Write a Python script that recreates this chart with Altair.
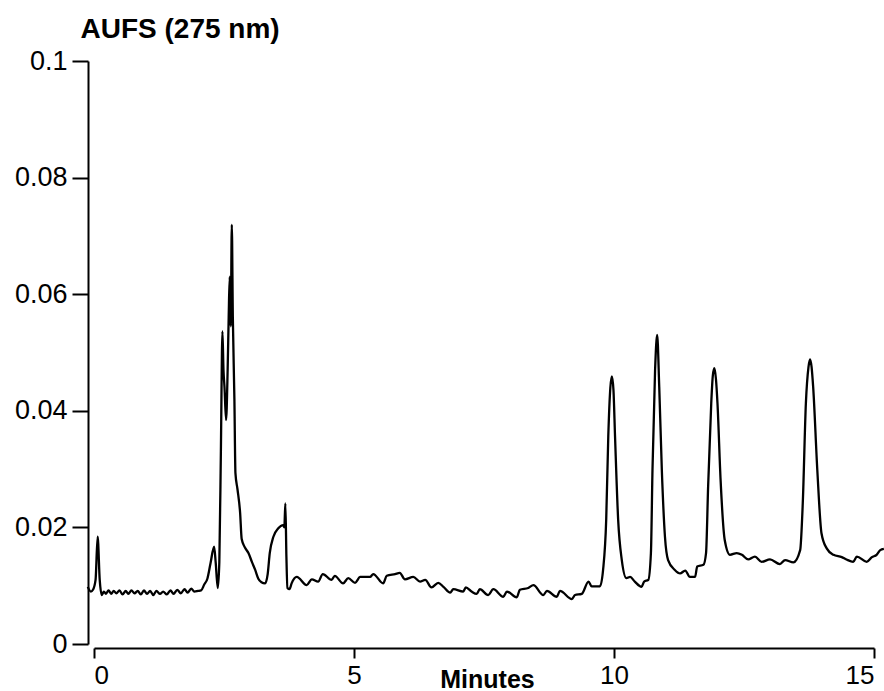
import altair as alt
import pandas as pd

# Chromatogram trace (minutes, AUFS at 275 nm)
minutes = [
    -0.12, -0.06, -0.02, 0.03, 0.07, 0.11, 0.15, 0.19, 0.23, 0.28, 0.33, 0.38,
    0.43, 0.49, 0.55, 0.61, 0.66, 0.72, 0.78, 0.84, 0.90, 0.96, 1.02, 1.08,
    1.14, 1.20, 1.27, 1.33, 1.40, 1.47, 1.53, 1.60, 1.67, 1.74, 1.80, 1.87,
    1.93, 2.00, 2.06, 2.12, 2.18, 2.24, 2.31, 2.34, 2.38, 2.41, 2.44, 2.47,
    2.49, 2.51, 2.54, 2.57, 2.59, 2.61, 2.63, 2.65, 2.67, 2.70, 2.72, 2.76,
    2.81, 2.84, 2.90, 2.97, 3.04, 3.10, 3.16, 3.22, 3.29, 3.34, 3.38, 3.45,
    3.54, 3.64, 3.66, 3.68, 3.70, 3.72, 3.76, 3.80, 3.90, 4.09, 4.19, 4.31,
    4.40, 4.57, 4.63, 4.79, 4.89, 5.02, 5.12, 5.31, 5.37, 5.56, 5.63, 5.79,
    5.88, 5.98, 6.14, 6.27, 6.37, 6.49, 6.62, 6.72, 6.85, 6.91, 7.10, 7.15,
    7.26, 7.36, 7.42, 7.58, 7.68, 7.87, 7.94, 8.13, 8.19, 8.35, 8.45, 8.64,
    8.71, 8.90, 8.96, 9.19, 9.25, 9.38, 9.51, 9.57, 9.73, 9.79, 9.85, 9.89,
    9.93, 9.96, 9.99, 10.02, 10.08, 10.15, 10.24, 10.31, 10.40, 10.53, 10.58,
    10.66, 10.71, 10.74, 10.79, 10.83, 10.87, 10.92, 10.98, 11.04, 11.17,
    11.27, 11.37, 11.46, 11.56, 11.60, 11.72, 11.77, 11.81, 11.87, 11.90,
    11.93, 11.96, 11.99, 12.05, 12.13, 12.23, 12.36, 12.46, 12.58, 12.71,
    12.84, 13.00, 13.19, 13.29, 13.45, 13.58, 13.63, 13.69, 13.74, 13.77,
    13.80, 13.83, 13.91, 13.99, 14.09, 14.22, 14.38, 14.47, 14.60, 14.67,
    14.86, 14.96, 15.05, 15.12, 15.19,
]
aufs = [
    0.0098, 0.0090, 0.0093, 0.0110, 0.0184, 0.0110, 0.0084, 0.0090, 0.0086, 0.0092, 0.0086, 0.0091,
    0.0087, 0.0092, 0.0085, 0.0091, 0.0086, 0.0092, 0.0087, 0.0091, 0.0085, 0.0092, 0.0086, 0.0091,
    0.0084, 0.0091, 0.0086, 0.0090, 0.0085, 0.0092, 0.0086, 0.0093, 0.0087, 0.0094, 0.0088, 0.0095,
    0.0090, 0.0091, 0.0092, 0.0102, 0.0112, 0.0138, 0.0167, 0.0140, 0.0096, 0.0140, 0.0330, 0.0536,
    0.0470, 0.0440, 0.0384, 0.0470, 0.0560, 0.0630, 0.0545, 0.0719, 0.0560, 0.0420, 0.0293, 0.0265,
    0.0225, 0.0180, 0.0166, 0.0156, 0.0140, 0.0127, 0.0112, 0.0106, 0.0104, 0.0120, 0.0156, 0.0184,
    0.0198, 0.0204, 0.0200, 0.0241, 0.0150, 0.0096, 0.0094, 0.0104, 0.0115, 0.0101, 0.0111, 0.0107,
    0.0120, 0.0110, 0.0117, 0.0104, 0.0113, 0.0105, 0.0115, 0.0115, 0.0120, 0.0104, 0.0117, 0.0120,
    0.0122, 0.0111, 0.0115, 0.0107, 0.0110, 0.0097, 0.0105, 0.0098, 0.0088, 0.0094, 0.0090, 0.0097,
    0.0090, 0.0086, 0.0094, 0.0084, 0.0094, 0.0081, 0.0090, 0.0080, 0.0093, 0.0096, 0.0101, 0.0084,
    0.0091, 0.0081, 0.0091, 0.0077, 0.0084, 0.0086, 0.0107, 0.0099, 0.0099, 0.0127, 0.0213, 0.0356,
    0.0440, 0.0459, 0.0435, 0.0356, 0.0213, 0.0144, 0.0113, 0.0115, 0.0107, 0.0098, 0.0107,
    0.0110, 0.0156, 0.0298, 0.0470, 0.0530, 0.0441, 0.0298, 0.0184, 0.0144, 0.0127,
    0.0121, 0.0126, 0.0115, 0.0115, 0.0133, 0.0136, 0.0156, 0.0270, 0.0413, 0.0460,
    0.0473, 0.0455, 0.0413, 0.0281, 0.0178, 0.0153, 0.0156, 0.0153, 0.0145, 0.0150,
    0.0141, 0.0145, 0.0137, 0.0144, 0.0140, 0.0161, 0.0241, 0.0413, 0.0475, 0.0488,
    0.0475, 0.0441, 0.0298, 0.0190, 0.0164, 0.0153, 0.0149, 0.0145, 0.0141, 0.0150,
    0.0141, 0.0149, 0.0153, 0.0161, 0.0163,
]

y_ticks = [0, 0.02, 0.04, 0.06, 0.08, 0.1]
x_ticks = [0, 5, 10, 15]

df = pd.DataFrame({"t": minutes, "a": aufs})

FONT = "Liberation Sans"

chart = (
    alt.Chart(df)
    .mark_line(color="black", strokeWidth=2.3, clip=False, interpolate="monotone")
    .encode(
        x=alt.X(
            "t:Q",
            scale=alt.Scale(domain=[0, 15], nice=False, zero=False),
            axis=alt.Axis(
                title="Minutes",
                values=x_ticks,
                format="d",
                grid=False,
                offset=4,
                tickSize=10,
                labelPadding=4,
                labelFontSize=26,
                labelFont=FONT,
                labelColor="black",
                titleFont=FONT,
                titleFontSize=25,
                titleFontWeight="bold",
                titleColor="black",
                titleBaseline="alphabetic",
                titleY=39,
                titleX=393,
                domainColor="black",
                domainWidth=2,
                tickColor="black",
                tickWidth=2,
            ),
        ),
        y=alt.Y(
            "a:Q",
            scale=alt.Scale(domain=[0, 0.1], nice=False),
            axis=alt.Axis(
                title="AUFS (275 nm)",
                values=y_ticks,
                format="~g",
                grid=False,
                offset=6,
                tickSize=16,
                labelPadding=5,
                labelFontSize=27,
                labelFont=FONT,
                labelColor="black",
                titleFont=FONT,
                titleFontSize=28,
                titleFontWeight="bold",
                titleColor="black",
                titleAngle=0,
                titleAlign="left",
                titleBaseline="alphabetic",
                titleX=-8,
                titleY=-24,
                domainColor="black",
                domainWidth=2,
                tickColor="black",
                tickWidth=2,
            ),
        ),
    )
    .properties(
        width=780,
        height=583,
        autosize=alt.AutoSizeParams(type="none"),
        padding={"left": 94, "top": 61, "right": 10, "bottom": 47},
        background="white",
    )
    .configure_view(stroke=None)
)

chart.save("out.html", embed_options={"renderer": "svg", "actions": False})
